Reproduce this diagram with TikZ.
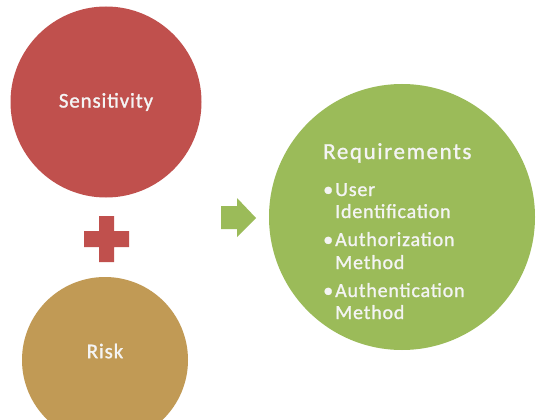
\documentclass[tikz,border=0pt]{standalone}
\usepackage{fontspec}
\setmainfont{Carlito}[FakeBold=1.2]
\definecolor{sensred}{HTML}{C0504D}
\definecolor{risktan}{HTML}{C19A55}
\definecolor{reqgreen}{HTML}{9BBB59}
\definecolor{txt}{HTML}{F4F4F4}
\begin{document}
\begin{tikzpicture}[x=1pt,y=-1pt,
  ball/.style={circle,draw=none,inner sep=0pt},
  balltext/.style={text=txt,inner sep=0pt,font=\fontsize{21}{24}\selectfont\addfontfeature{LetterSpace=4}},
  reqhead/.style={text=txt,inner sep=0pt,anchor=base west,font=\fontsize{23}{26}\selectfont\addfontfeature{LetterSpace=7}},
  reqline/.style={text=txt,inner sep=0pt,anchor=base west,font=\fontsize{20}{22}\selectfont\addfontfeature{LetterSpace=4}}]
\useasboundingbox (0,0) rectangle (536,420);
\clip (0,0) rectangle (536,420);
\fill[white] (0,0) rectangle (536,420);
% circles
\node[ball,fill=sensred,minimum size=191pt] (sens) at (106,102) {};
\node[ball,fill=risktan,minimum size=166pt] (risk) at (105,360) {};
\node[ball,fill=reqgreen,minimum size=266pt] (req) at (402,217) {};
% labels
\node[balltext] (senst) at (106,102) {Sensitivity};
\node[balltext] (riskt) at (105,351) {Risk};
\node[reqhead] (reqt) at (323,159) {Requirements};
\node[reqline] (l1) at (335,196) {\llap{\textbullet\hspace{2pt}}User};
\node[reqline] (l2) at (335,218) {Identification};
\node[reqline] (l3) at (335,246) {\llap{\textbullet\hspace{2pt}}Authorization};
\node[reqline] (l4) at (335,269) {Method};
\node[reqline] (l5) at (335,297) {\llap{\textbullet\hspace{2pt}}Authentication};
\node[reqline] (l6) at (335,319) {Method};
% plus sign
\fill[sensred] (99,216) -- (114,216) -- (114,231) -- (129,231) -- (129,247)
  -- (114,247) -- (114,262) -- (99,262) -- (99,247) -- (84,247) -- (84,231)
  -- (99,231) -- cycle;
% block arrow
\fill[reqgreen] (221,206) -- (237,206) -- (237,198) -- (256,218) -- (237,237)
  -- (237,229) -- (221,229) -- cycle;
\end{tikzpicture}
\end{document}
